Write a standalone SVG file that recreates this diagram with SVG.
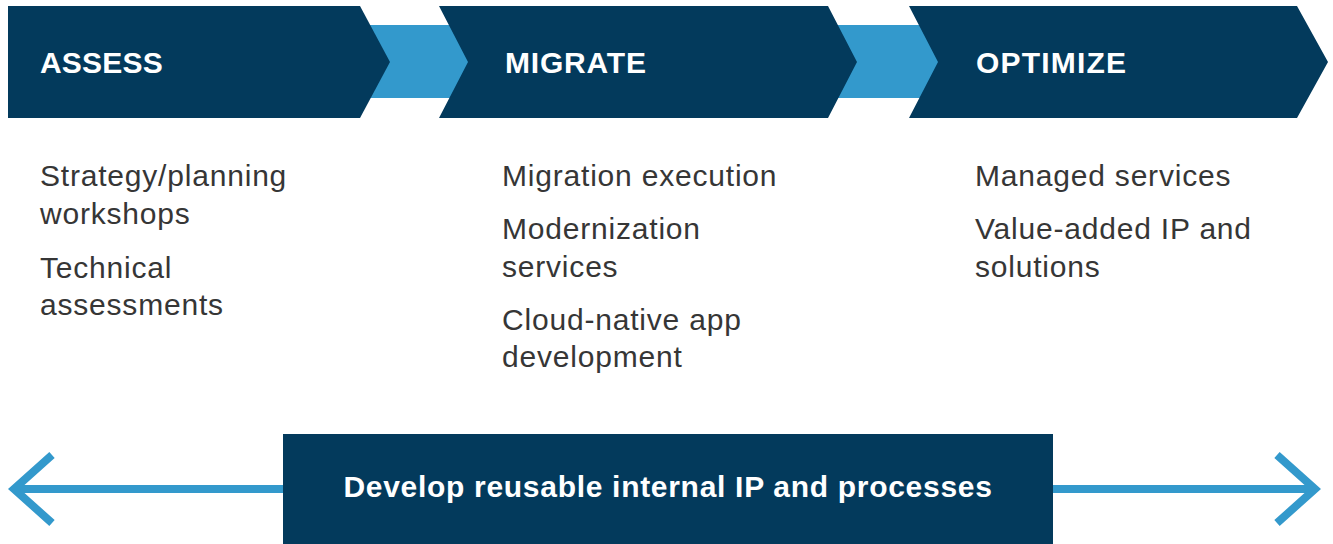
<svg xmlns="http://www.w3.org/2000/svg" width="1333" height="544" viewBox="0 0 1333 544">
  <style>
    .navy { fill: #033a5c; }
    .band { fill: #3399cc; }
    .title { font-family: "Liberation Sans", Arial, Helvetica, sans-serif; font-weight: bold; font-size: 30px; fill: #ffffff; letter-spacing: 0.8px; }
    .caption { letter-spacing: 0.7px; }
    .item { font-family: "Liberation Sans", Arial, Helvetica, sans-serif; font-size: 30px; fill: #363636; letter-spacing: 0.8px; }
    .bar { fill: none; stroke: #3399cc; stroke-width: 8; }
  </style>
  <rect width="1333" height="544" fill="#ffffff"/>

  <g id="connectors">
    <!-- bands joining the phase chevrons -->
    <rect class="band" x="360" y="25" width="110" height="73"/>
    <rect class="band" x="828" y="25" width="112" height="73"/>
    <!-- double-headed bar behind the bottom box -->
    <line class="bar" x1="14" y1="489" x2="1314" y2="489"/>
    <polyline class="bar" points="52,455 14,489 52,523"/>
    <polyline class="bar" points="1277,455 1315,489 1277,523"/>
  </g>

  <g id="assess">
    <polygon class="navy" points="8,6 360,6 390,62 360,118 8,118"/>
    <text class="title" x="40" y="73" style="letter-spacing:0.2px">ASSESS</text>
    <text class="item" x="40" y="186">Strategy/planning</text>
    <text class="item" x="40" y="224">workshops</text>
    <text class="item" x="40" y="278">Technical</text>
    <text class="item" x="40" y="315">assessments</text>
  </g>

  <g id="migrate">
    <polygon class="navy" points="439,6 828,6 857,62 828,118 439,118 468,62"/>
    <text class="title" x="505" y="73">MIGRATE</text>
    <text class="item" x="502" y="186">Migration execution</text>
    <text class="item" x="502" y="239">Modernization</text>
    <text class="item" x="502" y="277">services</text>
    <text class="item" x="502" y="330">Cloud-native app</text>
    <text class="item" x="502" y="367">development</text>
  </g>

  <g id="optimize">
    <polygon class="navy" points="909,6 1297,6 1328,62 1297,118 909,118 938,62"/>
    <text class="title" x="976" y="73" style="letter-spacing:1.2px">OPTIMIZE</text>
    <text class="item" x="975" y="186">Managed services</text>
    <text class="item" x="975" y="239">Value-added IP and</text>
    <text class="item" x="975" y="277">solutions</text>
  </g>

  <g id="develop">
    <rect class="navy" x="283" y="434" width="770" height="110"/>
    <text class="title caption" x="668" y="497" text-anchor="middle">Develop reusable internal IP and processes</text>
  </g>
</svg>
